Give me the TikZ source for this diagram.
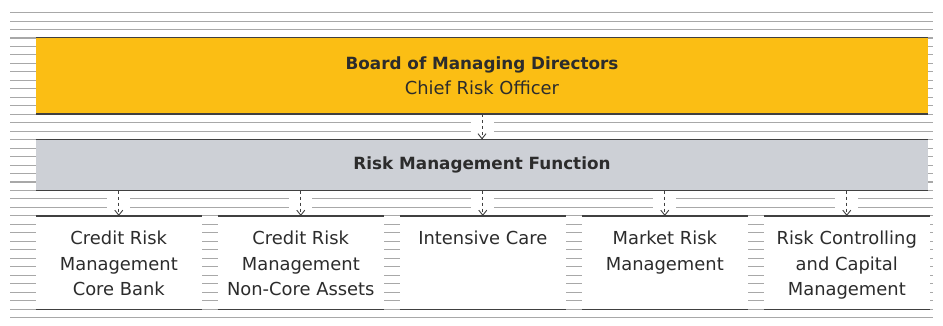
\documentclass[tikz,border=0pt]{standalone}
\usepackage{fontspec}
\setmainfont{DejaVu Sans}
\usepackage{tikz}
\usetikzlibrary{arrows.meta}
\usetikzlibrary{positioning}
\definecolor{yamabuki}{rgb}	{	0.9843	,	0.7451	,	0.0784	}
\definecolor{ginnezu}{rgb}	{	0.8039	,	0.8157	,	0.8392	}
\definecolor{sumi}	{rgb}	{	0.1725	,	0.1725	,	0.1725	}
\definecolor{hai}	{rgb}	{	0.6600	,	0.6600	,	0.6600	}
\definecolor{keisen}{rgb}	{	0.2500	,	0.2500	,	0.2500	}
\newcommand{\unittext}[1]{\parbox[t][93pt][t]{160pt}{\centering\rule{0pt}{28.7pt}#1}}
\newcommand{\headtext}[1]{{\fontsize{16.8}{25.5}\selectfont\bfseries #1}}

\begin{document}
\begin{tikzpicture}[x=1pt, y=-1pt, ->, >={Straight Barb[length=5pt,width=8pt]}]
  \tikzset{panel/.style={rectangle, inner sep=0pt, text=sumi, font=\fontsize{17.9}{25.5}\selectfont},
           unit/.style={panel, fill=white, minimum width=165.6pt, minimum height=93.1pt},
           flow/.style={keisen, line width=0.9pt, dash pattern=on 3pt off 3pt}}
  \useasboundingbox (0,0) rectangle (943,326);
  \foreach \i in {0,...,36}
    \draw[-, hai, line width=1.1pt] (10,{12.6+8.47*\i}) -- (933,{12.6+8.47*\i});
  \node (bmd) [panel, fill=yamabuki, minimum width=892pt, minimum height=76.1pt, align=center] at (482,75.75) {\headtext{Board of Managing Directors}\\Chief Risk Officer};
  \node (rmf) [panel, fill=ginnezu, minimum width=892pt, minimum height=50.8pt, below=25.4pt of bmd] {\headtext{Risk Management Function}};
  \node (crcb) [unit, below=25.3pt of rmf.south west, anchor=north west] {\unittext{Credit Risk\\Management\\Core Bank}};
  \node (crnc) [unit, right=16pt of crcb] {\unittext{Credit Risk\\Management\\Non-Core Assets}};
  \node (ic) [unit, right=16pt of crnc] {\unittext{Intensive Care}};
  \node (mrm) [unit, right=16pt of ic] {\unittext{Market Risk\\Management}};
  \node (rccm) [unit, right=16pt of mrm] {\unittext{Risk Controlling\\and Capital\\Management}};
  \draw[-, white, line width=23pt] (bmd) -- (rmf);
  \foreach \n in {crcb,crnc,ic,mrm,rccm}
    \draw[-, white, line width=23pt] (rmf.south -| \n.north) -- (\n.north);
  \foreach \n in {bmd,rmf,crcb,crnc,ic,mrm,rccm}
    \draw[-, keisen, line width=1.2pt] (\n.north west) -- (\n.north east) (\n.south west) -- (\n.south east);
  \draw[flow] (bmd) -- (rmf);
  \foreach \n in {crcb,crnc,ic,mrm,rccm}
    \draw[flow] (rmf.south -| \n.north) -- (\n.north);
\end{tikzpicture}
\end{document}
